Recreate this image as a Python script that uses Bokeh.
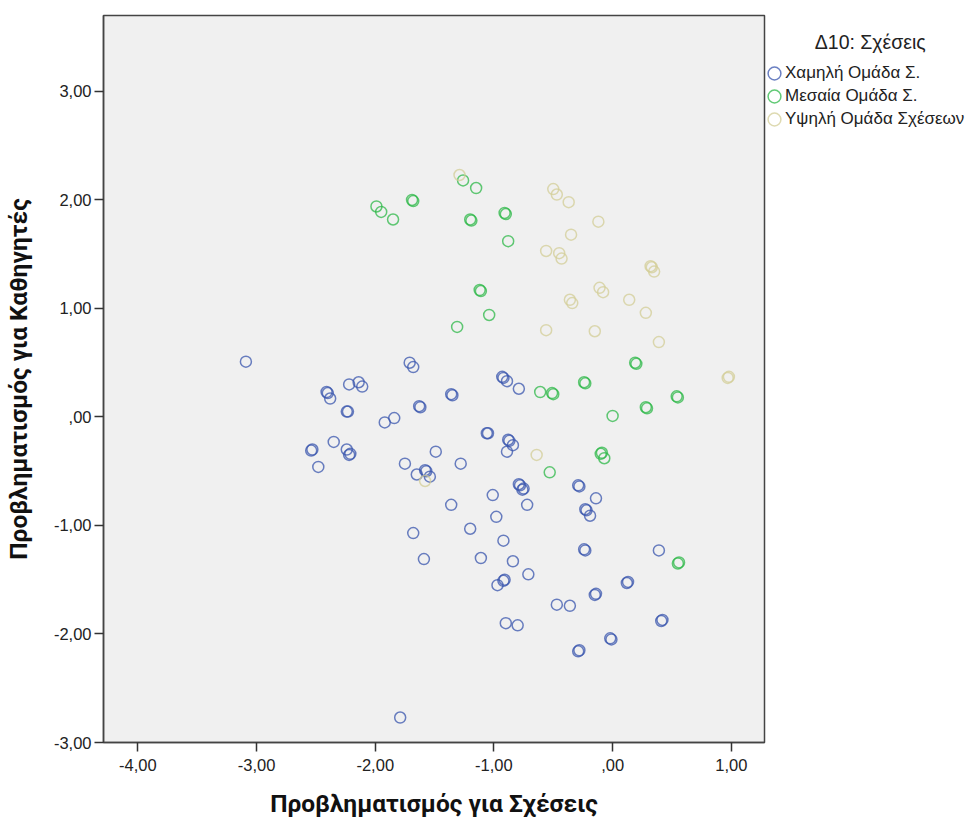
from bokeh.plotting import figure
from bokeh.models import Legend, LegendItem, FixedTicker, Range1d
from bokeh.embed import file_html
from bokeh.resources import INLINE

# Χαμηλή Ομάδα Σ.
low_x = [-3.09, -2.54, -2.53, -2.48, -2.41, -2.40, -2.38, -2.35, -2.22, -2.14,
         -2.11, -2.24, -2.23, -2.24, -2.22, -2.21, -1.92, -1.84, -1.71, -1.68,
         -1.63, -1.62, -1.75, -1.65, -1.58, -1.57, -1.54, -1.49, -1.36, -1.35,
         -1.28, -1.36, -1.68, -1.59, -1.20, -1.11, -1.06, -1.05, -0.93, -0.92,
         -0.89, -0.88, -0.87, -0.84, -0.89, -0.79, -1.01, -0.98, -0.92, -0.92,
         -0.91, -0.97, -0.84, -0.71, -0.79, -0.78, -0.76, -0.75, -0.72, -0.90,
         -0.80, -1.79, -0.47, -0.36, -0.29, -0.28, -0.23, -0.22, -0.19, -0.14,
         -0.24, -0.23, -0.15, -0.14, 0.12, 0.13, -0.29, -0.28, -0.02, -0.01,
         0.41, 0.42, 0.39]
low_y = [0.51, -0.31, -0.30, -0.46, 0.23, 0.22, 0.17, -0.23, 0.30, 0.32,
         0.28, 0.05, 0.05, -0.30, -0.35, -0.34, -0.05, -0.01, 0.50, 0.46,
         0.10, 0.09, -0.43, -0.53, -0.49, -0.50, -0.55, -0.32, 0.21, 0.20,
         -0.43, -0.81, -1.07, -1.31, -1.03, -1.30, -0.15, -0.15, 0.37, 0.36,
         0.33, -0.21, -0.22, -0.26, -0.32, 0.26, -0.72, -0.92, -1.14, -1.51,
         -1.50, -1.55, -1.33, -1.45, -0.62, -0.63, -0.67, -0.66, -0.81, -1.90,
         -1.92, -2.77, -1.73, -1.74, -0.63, -0.64, -0.85, -0.86, -0.91, -0.75,
         -1.22, -1.23, -1.64, -1.63, -1.53, -1.52, -2.16, -2.15, -2.04, -2.05,
         -1.88, -1.87, -1.23]

# Μεσαία Ομάδα Σ.
mid_x = [-1.99, -1.95, -1.85, -1.69, -1.68, -1.26, -1.15, -1.20, -1.19, -0.91,
         -0.90, -0.88, -1.12, -1.11, -1.04, -1.31, -0.61, -0.51, -0.50, -0.24,
         -0.23, 0.19, 0.20, 0.00, 0.28, 0.29, 0.54, 0.55, -0.53, -0.10,
         -0.09, -0.07, 0.55, 0.56]
mid_y = [1.94, 1.89, 1.82, 2.00, 1.99, 2.18, 2.11, 1.82, 1.81, 1.88,
         1.87, 1.62, 1.17, 1.16, 0.94, 0.83, 0.23, 0.22, 0.21, 0.32,
         0.31, 0.50, 0.49, 0.01, 0.09, 0.08, 0.19, 0.18, -0.51, -0.34,
         -0.33, -0.38, -1.35, -1.34]

# Υψηλή Ομάδα Σχέσεων
high_x = [-1.29, -0.50, -0.47, -0.37, -0.12, -0.35, -0.56, -0.45, -0.43, 0.32,
          0.33, 0.35, -0.36, -0.34, -0.11, -0.08, 0.14, 0.28, -0.56, -0.15,
          0.39, 0.97, 0.98, -0.64, -1.58]
high_y = [2.23, 2.10, 2.05, 1.98, 1.80, 1.68, 1.53, 1.51, 1.46, 1.39,
          1.38, 1.34, 1.08, 1.05, 1.19, 1.15, 1.08, 0.96, 0.80, 0.79,
          0.69, 0.36, 0.37, -0.35, -0.59]

group_names = ["Χαμηλή Ομάδα Σ.", "Μεσαία Ομάδα Σ.", "Υψηλή Ομάδα Σχέσεων"]
group_colors = ["#3A55AE", "#2EB848", "#D3CE97"]
legend_title = "Δ10: Σχέσεις"

x_ticks = [-4, -3, -2, -1, 0, 1]
x_tick_labels = ["-4,00", "-3,00", "-2,00", "-1,00", ",00", "1,00"]
y_ticks = [-3, -2, -1, 0, 1, 2, 3]
y_tick_labels = ["-3,00", "-2,00", "-1,00", ",00", "1,00", "2,00", "3,00"]

x_title = "Προβληματισμός για Σχέσεις"
y_title = "Προβληματισμός για Καθηγητές"

p = figure(frame_width=661, frame_height=727,
           x_range=Range1d(-4.29, 1.28), y_range=Range1d(-3.0, 3.70),
           output_backend="svg", toolbar_location=None,
           min_border_left=103, min_border_right=208,
           min_border_top=15, min_border_bottom=68)

p.background_fill_color = "#F0F0F0"
p.border_fill_color = "white"
p.outline_line_color = "#444444"
p.outline_line_width = 1.5
p.xgrid.visible = False
p.ygrid.visible = False

font = "Liberation Sans"
for ax, ticks, labels in ((p.xaxis, x_ticks, x_tick_labels), (p.yaxis, y_ticks, y_tick_labels)):
    ax.ticker = FixedTicker(ticks=ticks)
    ax.major_label_overrides = dict(zip(ticks, labels))
    ax.major_tick_out = 9
    ax.major_tick_in = 0
    ax.minor_tick_line_color = None
    ax.major_tick_line_color = "#333333"
    ax.major_tick_line_width = 1.5
    ax.axis_line_color = "#444444"
    ax.axis_line_width = 1.5
    ax.major_label_text_font = font
    ax.major_label_text_font_size = "16.5px"
    ax.major_label_text_color = "#222222"
    ax.axis_label_text_font = "Roboto"
    ax.axis_label_text_font_style = "bold"
    ax.axis_label_text_font_size = "24.5px"
    ax.axis_label_text_color = "#111111"

p.xaxis.major_label_standoff = 7
p.yaxis.major_label_standoff = 3
p.xaxis.axis_label = x_title
p.yaxis.axis_label = y_title
p.xaxis.axis_label_standoff = 15
p.yaxis.axis_label_standoff = 18

renderers = []
for xs, ys, color in ((low_x, low_y, group_colors[0]),
                      (mid_x, mid_y, group_colors[1]),
                      (high_x, high_y, group_colors[2])):
    r = p.ellipse(xs, ys, width=11, height=11, width_units="screen", height_units="screen",
                  fill_color=None, line_color=color, line_width=1.5, line_alpha=0.75)
    renderers.append(r)

nbsp = "\u00a0" * 9
legend = Legend(items=[LegendItem(label=n, renderers=[r]) for n, r in zip(group_names, renderers)],
                title=nbsp + legend_title, title_text_font=font, title_text_font_size="19.5px",
                title_text_font_style="normal", title_text_color="#222222", title_standoff=8,
                location=(2, 612), margin=0, padding=0, spacing=1,
                glyph_width=16, glyph_height=16, label_standoff=3,
                label_height=22, label_text_font=font, label_text_font_size="17px",
                label_text_color="#222222",
                border_line_color=None, background_fill_alpha=0)
p.add_layout(legend, "right")

open("out.html", "w").write(file_html(p, INLINE))
